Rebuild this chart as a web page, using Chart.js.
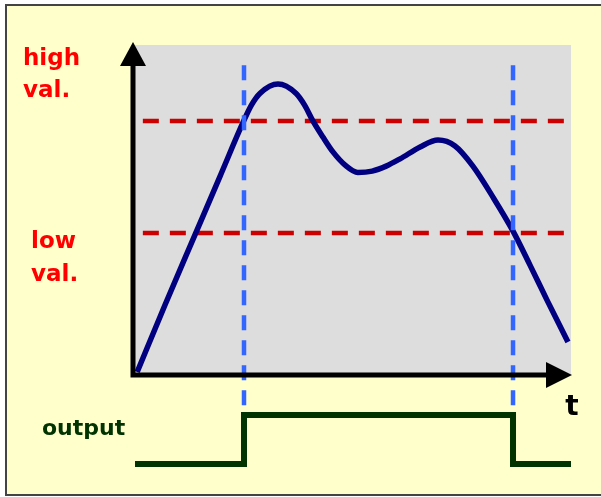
<!DOCTYPE html>
<html>
<head>
<meta charset="utf-8">
<script src="https://cdn.jsdelivr.net/npm/chart.js@4/dist/chart.umd.min.js"></script>
<style>
  html, body { margin: 0; padding: 0; background: #fff; }
  canvas { display: block; }
</style>
</head>
<body>
<canvas id="chart" width="601" height="497"></canvas>
<script>
// signal curve (t: 0..100, value: 0..100)
const curveT = [0.5, 6.9, 13.8, 19.5, 24.8, 26.7, 28.7, 32.8, 36.9, 38.9, 40.8, 43.1, 45.4, 48.2, 51.1, 54.4, 57.6, 60.8, 65.4, 69.5, 73.4, 77.5, 82.1, 86.7, 90.6, 94.5, 99.3];
const curveV = [0.9, 21.3, 42.6, 60.2, 76.6, 81.8, 85.4, 88.2, 85.4, 81.8, 77, 72.1, 67.6, 63.6, 61.4, 61.8, 63.3, 65.5, 69.1, 71.2, 69.4, 63.3, 53.9, 43.6, 33.3, 22.7, 10];

// thresholds
const highVal = 77;
const lowVal = 43;
const thresholdT = [1.8, 99];

// switching instants and output levels (0 = off, 1 = on)
const switchT = [25, 86.7];
const markerV = [93.9, -9.7];
const outputT = [0, 25, 86.7, 100];
const outputV = [0, 1, 0, 0];

const labels = {
  high: ['high', 'val.'],
  low: ['low', 'val.'],
  output: 'output',
  time: 't'
};

const pts = (xs, ys) => xs.map((x, i) => ({ x: x, y: ys[i] }));

const backdrop = {
  id: 'backdrop',
  beforeDraw(chart) {
    const ctx = chart.ctx;
    const { x, y } = chart.scales;
    ctx.save();
    ctx.fillStyle = '#ffffff';
    ctx.fillRect(0, 0, chart.width, chart.height);
    ctx.fillStyle = '#ffffcc';
    ctx.fillRect(7, 5, chart.width, 490);
    ctx.strokeStyle = '#444444';
    ctx.lineWidth = 2;
    ctx.beginPath();
    ctx.moveTo(chart.width + 2, 5);
    ctx.lineTo(6, 5);
    ctx.lineTo(6, 495);
    ctx.lineTo(chart.width + 2, 495);
    ctx.stroke();
    // grey plot field
    const top = y.getPixelForValue(100);
    const bottom = y.getPixelForValue(0);
    ctx.fillStyle = '#dddddd';
    ctx.fillRect(x.left, top, x.right - x.left, bottom - top);
    ctx.restore();
  },
  afterDatasetsDraw(chart) {
    const ctx = chart.ctx;
    const { x, y } = chart.scales;
    const ox = x.getPixelForValue(0) - 2;
    const oy = y.getPixelForValue(0);
    ctx.save();
    ctx.strokeStyle = '#000';
    ctx.fillStyle = '#000';
    ctx.lineWidth = 5;
    ctx.beginPath();
    ctx.moveTo(ox, oy + 2.5);
    ctx.lineTo(ox, 64);
    ctx.moveTo(ox - 2.5, oy);
    ctx.lineTo(548, oy);
    ctx.stroke();
    // arrow heads
    ctx.beginPath();
    ctx.moveTo(ox, 42);
    ctx.lineTo(ox - 13, 66);
    ctx.lineTo(ox + 13, 66);
    ctx.closePath();
    ctx.fill();
    ctx.beginPath();
    ctx.moveTo(572, oy);
    ctx.lineTo(546, oy - 13);
    ctx.lineTo(546, oy + 13);
    ctx.closePath();
    ctx.fill();

    // texts
    ctx.textBaseline = 'alphabetic';
    ctx.textAlign = 'left';
    ctx.font = 'bold 23px "DejaVu Sans"';
    ctx.fillStyle = '#ff0000';
    ctx.fillText(labels.high[0], 23, 65);
    ctx.fillText(labels.high[1], 23, 97);
    ctx.fillText(labels.low[0], 31, 248);
    ctx.fillText(labels.low[1], 31, 281);
    ctx.fillStyle = '#003300';
    ctx.font = 'bold 22px "DejaVu Sans"';
    ctx.fillText(labels.output, 42, 435);
    ctx.fillStyle = '#000';
    ctx.textAlign = 'center';
    ctx.font = 'bold 28px "DejaVu Sans"';
    ctx.fillText(labels.time, 572, 415);
    ctx.restore();
  }
};

const lineDefaults = { showLine: true, pointRadius: 0, fill: false, clip: false };

new Chart(document.getElementById('chart'), {
  type: 'scatter',
  data: {
    datasets: [
      Object.assign({}, lineDefaults, {
        data: pts([switchT[0], switchT[0]], markerV),
        borderColor: '#3366ff', borderWidth: 4.5, borderDash: [15, 10]
      }),
      Object.assign({}, lineDefaults, {
        data: pts([switchT[1], switchT[1]], markerV),
        borderColor: '#3366ff', borderWidth: 4.5, borderDash: [15, 10]
      }),
      Object.assign({}, lineDefaults, {
        data: pts(curveT, curveV),
        borderColor: '#000080', borderWidth: 5.5,
        cubicInterpolationMode: 'monotone'
      }),
      Object.assign({}, lineDefaults, {
        data: pts(thresholdT, [highVal, highVal]),
        borderColor: '#cc0000', borderWidth: 4.5, borderDash: [16, 11]
      }),
      Object.assign({}, lineDefaults, {
        data: pts(thresholdT, [lowVal, lowVal]),
        borderColor: '#cc0000', borderWidth: 4.5, borderDash: [16, 11]
      }),
      Object.assign({}, lineDefaults, {
        data: pts(outputT, outputV),
        yAxisID: 'yOut',
        stepped: 'before',
        borderColor: '#003300', borderWidth: 6,
        borderJoinStyle: 'miter'
      })
    ]
  },
  options: {
    responsive: false,
    animation: false,
    events: [],
    layout: { padding: { left: 135, right: 30, top: 45, bottom: 22 } },
    plugins: { legend: { display: false }, tooltip: { enabled: false } },
    scales: {
      x: { type: 'linear', display: false, min: 0, max: 100 },
      y: { display: false, min: -30.303, max: 100 },
      yOut: { display: false, min: -0.2245, max: 8.551 }
    }
  },
  plugins: [backdrop]
});
</script>
</body>
</html>
